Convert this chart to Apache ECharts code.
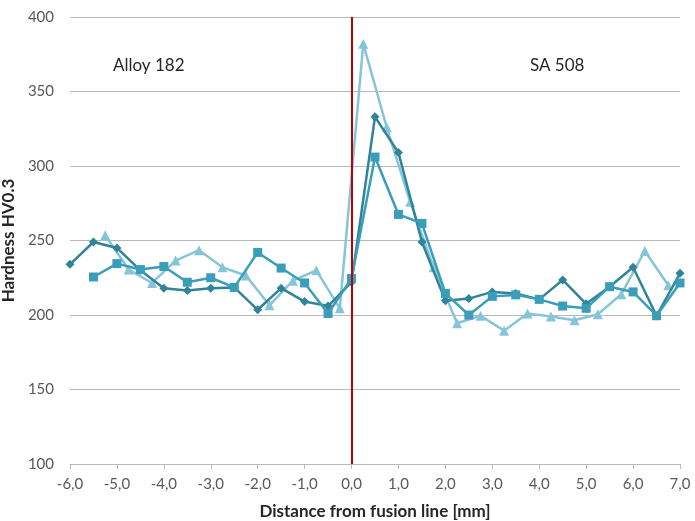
<!DOCTYPE html>
<html>
<head>
<meta charset="utf-8">
<script src="https://cdn.jsdelivr.net/npm/echarts@6/dist/echarts.min.js"></script>
<style>
  html, body { margin: 0; padding: 0; background: #ffffff; }
  #chart { width: 695px; height: 521px; }
</style>
</head>
<body>
<div id="chart"></div>
<script>
// Hardness traverse across the fusion line (three measurement rows)
const xRow1 = [-6.0, -5.5, -5.0, -4.5, -4.0, -3.5, -3.0, -2.5, -2.0, -1.5, -1.0, -0.5, 0.0,
               0.5, 1.0, 1.5, 2.0, 2.5, 3.0, 3.5, 4.0, 4.5, 5.0, 5.5, 6.0, 6.5, 7.0];
const hvRow1 = [234, 249, 245, 230, 218, 216.5, 218, 218.5, 203.5, 218, 209, 206, 222,
                333, 309, 249, 209.5, 211, 215.5, 214.5, 210.5, 223.5, 207.5, 219, 232, 199.5, 228];

const xRow2 = [-5.5, -5.0, -4.5, -4.0, -3.5, -3.0, -2.5, -2.0, -1.5, -1.0, -0.5, 0.0,
               0.5, 1.0, 1.5, 2.0, 2.5, 3.0, 3.5, 4.0, 4.5, 5.0, 5.5, 6.0, 6.5, 7.0];
const hvRow2 = [225.5, 234.5, 230.5, 232.5, 222, 225, 218.5, 242, 231.5, 221.5, 201, 224.5,
                306, 267.5, 261.5, 214.5, 200, 212.5, 213.5, 210.5, 206, 204.5, 219, 215.5, 199.5, 221.5];

const xRow3 = [-5.25, -4.75, -4.25, -3.75, -3.25, -2.75, -2.25, -1.75, -1.25, -0.75, -0.25,
               0.25, 0.75, 1.25, 1.75, 2.25, 2.75, 3.25, 3.75, 4.25, 4.75, 5.25, 5.75, 6.25, 6.75];
const hvRow3 = [253.5, 230.5, 221.5, 236.5, 243.5, 232, 226.5, 206.5, 223, 230, 204.5,
                382, 326, 276, 232, 194.5, 199.5, 189.5, 201, 199, 196.5, 200.5, 214, 243, 220];

const fusionLineX = 0;
const regionLabels = ['Alloy 182', 'SA 508'];
const xTitle = 'Distance from fusion line [mm]';
const yTitle = 'Hardness HV0.3';

const FONT = 'Lato, "Open Sans", sans-serif';
const pairs = (xs, ys) => xs.map((x, i) => [x, ys[i]]);

const chart = echarts.init(document.getElementById('chart'), null, { renderer: 'canvas' });

function rowSeries(name, xs, ys, color, symbol, size, z) {
  return {
    name, type: 'line', data: pairs(xs, ys), z,
    symbol, symbolSize: size, showSymbol: true,
    lineStyle: { color, width: 2.5 },
    itemStyle: { color },
    animation: false
  };
}

chart.setOption({
  animation: false,
  grid: { left: 70, right: 15, top: 17, bottom: 57, outerBoundsMode: 'none', containLabel: false },
  xAxis: {
    type: 'value', min: -6, max: 7, interval: 1,
    name: xTitle, nameLocation: 'middle', nameGap: 39,
    nameTextStyle: { fontFamily: FONT, fontWeight: 'bold', fontSize: 17, color: '#262626' },
    axisLine: { show: true, lineStyle: { color: '#B8B8B8', width: 1 } },
    axisTick: { show: true, length: 5, lineStyle: { color: '#B8B8B8' } },
    axisLabel: {
      margin: 13, fontFamily: FONT, fontSize: 15, color: '#595959',
      formatter: v => v.toFixed(1).replace('.', ',')
    },
    splitLine: { show: false }
  },
  yAxis: {
    type: 'value', min: 100, max: 400, interval: 50,
    name: yTitle, nameLocation: 'middle', nameGap: 44, nameRotate: 90,
    nameTextStyle: { fontFamily: FONT, fontWeight: 'bold', fontSize: 17, color: '#262626' },
    axisLine: { show: true, lineStyle: { color: '#B8B8B8', width: 1 } },
    axisTick: { show: true, length: 5, lineStyle: { color: '#B8B8B8' } },
    axisLabel: { margin: 16, fontFamily: FONT, fontSize: 15, color: '#595959' },
    splitLine: { show: true, lineStyle: { color: '#B8B8B8', width: 1 } }
  },
  series: [
    rowSeries('Row 1', xRow1, hvRow1, '#2F8499', 'diamond', 9, 3),
    rowSeries('Row 2', xRow2, hvRow2, '#3A9EBA', 'rect', 9, 4),
    rowSeries('Row 3', xRow3, hvRow3, '#86C5D8', 'triangle', 10, 2),
    {
      name: 'Fusion line', type: 'line', data: [], z: 10,
      markLine: {
        silent: true, symbol: 'none', animation: false,
        label: { show: false },
        lineStyle: { color: '#C00000', width: 2, type: 'solid' },
        data: [{ xAxis: fusionLineX }]
      }
    }
  ],
  graphic: [
    { type: 'text', left: 113, top: 57,
      style: { text: regionLabels[0], font: '17px ' + FONT, fill: '#262626' } },
    { type: 'text', left: 530, top: 57,
      style: { text: regionLabels[1], font: '17px ' + FONT, fill: '#262626' } }
  ]
});
</script>
</body>
</html>
